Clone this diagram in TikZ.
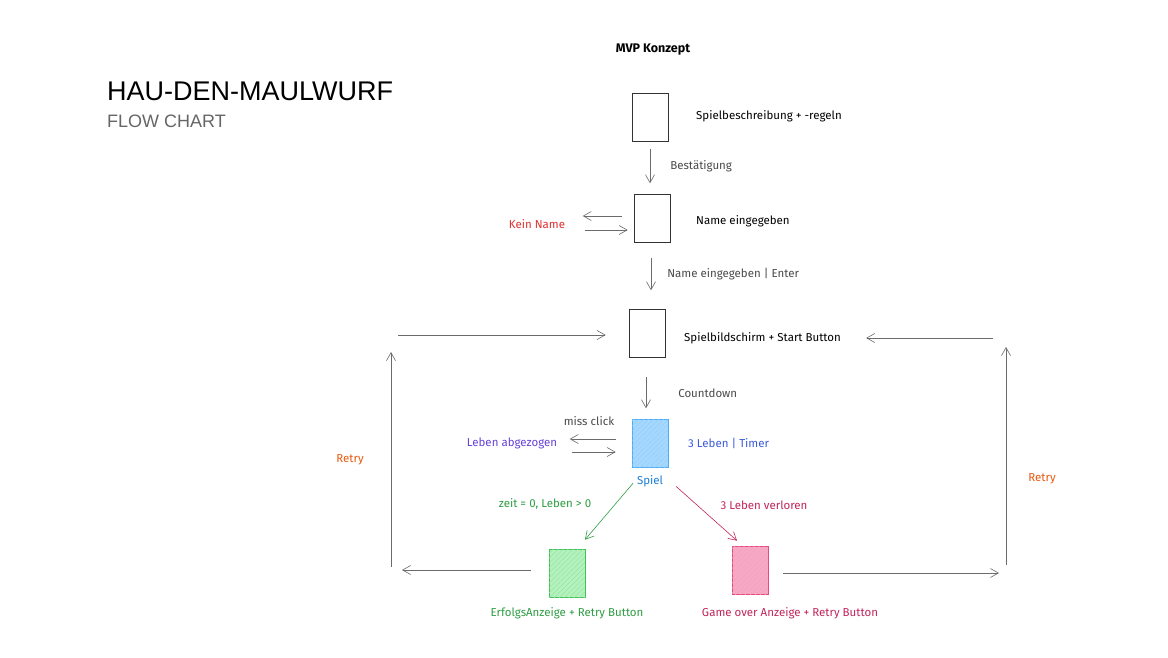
\documentclass[tikz,border=0pt]{standalone}
\usepackage{fontspec}
\setmainfont{Liberation Sans}
\newfontfamily\handfont{Fira Sans}
\usetikzlibrary{arrows.meta,patterns.meta,positioning}

\definecolor{sketchgray}{HTML}{6b6b6b}
\definecolor{notegray}{HTML}{4a4a4a}
\definecolor{spielfill}{HTML}{a5d8ff}
\definecolor{spielline}{HTML}{4dabf7}
\definecolor{spielblue}{HTML}{1c7ed6}
\definecolor{timerblue}{HTML}{3b5bdb}
\definecolor{lebenviolet}{HTML}{6741d9}
\definecolor{winfill}{HTML}{b2f2bb}
\definecolor{winline}{HTML}{40c057}
\definecolor{wingreen}{HTML}{2f9e44}
\definecolor{losefill}{HTML}{f7a8c4}
\definecolor{loseline}{HTML}{e64980}
\definecolor{losered}{HTML}{c2255c}
\definecolor{keinred}{HTML}{e03131}
\definecolor{retryorange}{HTML}{e8590c}

\begin{document}
\begin{tikzpicture}[x=1pt,y=-1pt,
    screen/.style={draw=black!80,line width=0.6pt,minimum width=36pt,minimum height=48pt,inner sep=0pt},
    hatched/.style={postaction={pattern={Lines[angle=45,distance=3.5pt,line width=0.5pt]},pattern color=#1}},
    flow/.style={draw=sketchgray,line width=0.6pt,-{Straight Barb[length=8pt,width=9pt]}},
    hand/.style={font=\handfont\fontsize{11.5}{13}\selectfont,text=black,inner sep=0pt},
    note/.style={hand,text=notegray}]
  \fill[white] (0,0) rectangle (1168,657);
  \useasboundingbox (0,0) rectangle (1168,657);

  % header
  \node[inner sep=0pt,anchor=base west,font=\fontsize{27}{30}\selectfont] (title) at (107,100) {HAU-DEN-MAULWURF};
  \node[inner sep=0pt,anchor=base west,text=black!60,font=\fontsize{18}{20}\selectfont] (subtitle) at (107,127) {FLOW CHART};
  \node[hand,font=\handfont\bfseries\fontsize{12.5}{14}\selectfont] (mvp) at (653,50) {MVP Konzept};

  % screens
  \node[screen] (rules) at (650,117) {};
  \node[hand,anchor=west] (rulestxt) at (696,116) {Spielbeschreibung + -regeln};
  \node[screen] (name) at (652,218) {};
  \node[hand,anchor=west] (nametxt) at (696,221) {Name eingegeben};
  \node[screen] (board) at (647,333) {};
  \node[hand,anchor=west] (boardtxt) at (684,338) {Spielbildschirm + Start Button};
  \node[screen,draw=spielline,fill=spielfill,hatched=spielline!60] (spiel) at (650,443) {};
  \node[hand,text=spielblue] (spieltxt) at (650,481) {Spiel};
  \node[hand,anchor=west,text=timerblue] (timertxt) at (688,443) {3 Leben | Timer};
  \node[screen,draw=winline,fill=winfill,hatched=winline!50] (win) at (567,573) {};
  \node[hand,text=wingreen] (wintxt) at (567,613) {ErfolgsAnzeige + Retry Button};
  \node[screen,draw=loseline,fill=losefill,hatched=loseline!50] (lose) at (750,570) {};
  \node[hand,text=losered] (losetxt) at (790,613) {Game over Anzeige + Retry Button};

  % main flow
  \draw[flow] (rules.south) ++(0,8) -- ++(0,34) node[note,midway,anchor=west,xshift=20pt] (ok) {Bestätigung};
  \draw[flow] (name.south) ++(-1,16) -- ++(0,32) node[note,midway,anchor=west,xshift=16pt] (enter) {Name eingegeben | Enter};
  \draw[flow] (board.south) ++(-1,20) -- ++(0,31) node[note,midway,anchor=west,xshift=32pt] (count) {Countdown};

  % kein name
  \node[hand,text=keinred] (kein) at (537,224) {Kein Name};
  \draw[flow] ([shift={(-12,-2)}]name.west) -- ([shift={(-51,-2)}]name.west);
  \draw[flow] ([shift={(-49,12)}]name.west) -- ([shift={(-6,12)}]name.west);

  % miss click
  \node[note] (miss) at (589,421) {miss click};
  \node[hand,text=lebenviolet] (leben) at (512,443) {Leben abgezogen};
  \draw[flow] ([shift={(-16,-4)}]spiel.west) -- ([shift={(-62,-4)}]spiel.west);
  \draw[flow] ([shift={(-60,9)}]spiel.west) -- ([shift={(-16,9)}]spiel.west);

  % results
  \draw[flow,draw=wingreen] ([shift={(-17,16)}]spiel.south) -- ([shift={(18,-9)}]win.north);
  \node[hand,text=wingreen] (wincond) at (545,504) {zeit = 0, Leben > 0};
  \draw[flow,draw=losered] ([shift={(26,19)}]spiel.south) -- ([shift={(-13,-5)}]lose.north);
  \node[hand,text=losered] (losecond) at (764,505) {3 Leben verloren};

  % retry loops
  \coordinate (winend) at (402,570);
  \coordinate (leftlow) at (391,567);
  \coordinate (lefthigh) at (391,352);
  \coordinate (boardleft) at (398,335);
  \draw[flow] ([shift={(-18,-3)}]win.west) -- (winend);
  \draw[flow] (leftlow) -- (lefthigh);
  \draw[flow] (boardleft) -- ([shift={(-23,2)}]board.west);
  \node[hand,text=retryorange] (retryl) at (350,460) {Retry};

  \coordinate (loseend) at (999,573);
  \coordinate (rightlow) at (1006,565);
  \coordinate (righthigh) at (1006,347);
  \coordinate (boardright) at (993,338);
  \draw[flow] ([shift={(15,3)}]lose.east) -- (loseend);
  \draw[flow] (rightlow) -- (righthigh);
  \draw[flow] (boardright) -- ([xshift=25pt]boardtxt.east);
  \node[hand,text=retryorange] (retryr) at (1042,479) {Retry};
\end{tikzpicture}
\end{document}
